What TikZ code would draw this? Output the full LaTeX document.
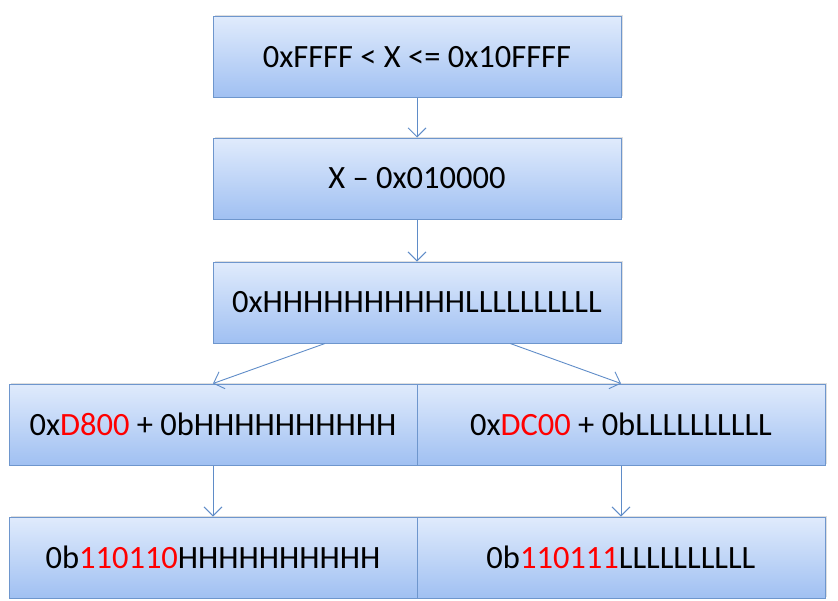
\documentclass[tikz,border=0pt]{standalone}
\usepackage{fontspec}
\setmainfont{Carlito}
\usetikzlibrary{arrows.meta, calc, shadows}

\definecolor{boxline}{RGB}{110,150,205}
\definecolor{boxtop}{RGB}{224,235,252}
\definecolor{boxbot}{RGB}{160,192,242}
\definecolor{arrowblue}{RGB}{95,140,200}
\definecolor{hexred}{RGB}{255,0,0}

\tikzset{
  stepbox/.style={draw=boxline, line width=1pt, top color=boxtop, bottom color=boxbot,
    minimum width=408pt, minimum height=81pt, inner sep=0pt,
    font=\fontsize{32.5}{38}\selectfont,
    drop shadow={opacity=0.25, shadow xshift=1.5pt, shadow yshift=1.5pt}},
  flow/.style={arrowblue, line width=0.9pt, -{Straight Barb[length=9pt, width=18pt]}}
}
\newcommand{\hl}[1]{\textcolor{hexred}{#1}}

\begin{document}
\begin{tikzpicture}[x=1pt, y=-1pt]
  \useasboundingbox (0,0) rectangle (838,600);

  % 中间一列
  \node[stepbox] (Range) at (417,57) {0xFFFF < X <= 0x10FFFF};
  \node[stepbox] (Sub) at (417,178.5) {X – 0x010000};
  \node[stepbox] (Bits) at (417,302.5) {0xHHHHHHHHHHLLLLLLLLLL};

  % 高位 / 低位
  \node[stepbox] (High) at (213,424.5) {0x\hl{D800} + 0bHHHHHHHHHH};
  \node[stepbox] (Low) at (621,424.5) {0x\hl{DC00} + 0bLLLLLLLLLL};
  \node[stepbox] (HighBin) at (213,557.5) {0b\hl{110110}HHHHHHHHHH};
  \node[stepbox] (LowBin) at (621,557.5) {0b\hl{110111}LLLLLLLLLL};

  % 箭头
  \draw[flow] (Range.south) -- (Sub.north);
  \draw[flow] (Sub.south) -- (Bits.north);
  \draw[flow] ($(Bits.south west)!0.275!(Bits.south east)$) -- (High.north);
  \draw[flow] ($(Bits.south west)!0.728!(Bits.south east)$) -- (Low.north);
  \draw[flow] (High.south) -- (HighBin.north);
  \draw[flow] (Low.south) -- (LowBin.north);

\end{tikzpicture}
\end{document}
